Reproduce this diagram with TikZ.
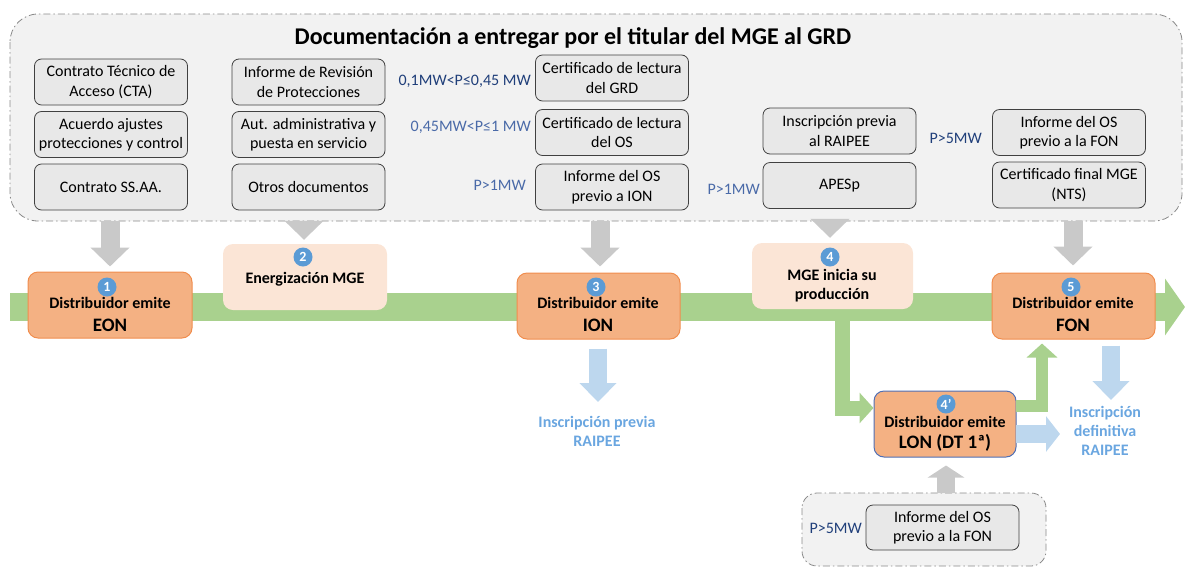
\documentclass[tikz,border=0pt]{standalone}
\usepackage{fontspec}
\setmainfont{Carlito}
\usetikzlibrary{arrows.meta}
\newcommand\myfs[2]{\fontsize{#1}{#2}\selectfont}
\definecolor{bgfill}{HTML}{F2F2F2}
\definecolor{dashgray}{HTML}{8A8A8A}
\definecolor{docfill}{HTML}{E8E8E8}
\definecolor{docline}{HTML}{404040}
\definecolor{orangefill}{HTML}{F4B183}
\definecolor{orangeline}{HTML}{F08D4E}
\definecolor{peachfill}{HTML}{FBE5D6}
\definecolor{numblue}{HTML}{5B9BD5}
\definecolor{tlgreen}{HTML}{A9D18E}
\definecolor{arrgray}{HTML}{C9C9C9}
\definecolor{arrblue}{HTML}{BDD7EE}
\definecolor{txtblue}{HTML}{6AA6E0}
\definecolor{navy}{HTML}{203F7A}
\definecolor{slate}{HTML}{4A6AA8}
\definecolor{lonline}{HTML}{4F6FB5}
\begin{document}
\begin{tikzpicture}[x=1pt,y=-1pt,
  outerbox/.style={draw=dashgray, fill=bgfill, line width=0.8pt, dash pattern=on 7pt off 3pt on 1.5pt off 3pt},
  doc/.style={draw=docline, fill=docfill, rounded corners=7pt, minimum width=153pt, minimum height=46pt, align=center, inner sep=1pt, font=\myfs{16}{19.5}, line width=0.8pt},
  orangebox/.style={fill=orangefill, draw=orangeline, line width=1pt, rounded corners=10pt, minimum width=164pt, minimum height=66pt},
  peachbox/.style={fill=peachfill, rounded corners=10pt, minimum width=164pt, minimum height=66pt},
  num/.style={circle, fill=numblue, text=white, minimum size=19pt, inner sep=0pt, font=\bfseries\myfs{14}{14}},
  btext/.style={font=\bfseries\myfs{16}{19}, align=center, inner sep=0pt},
  bigtext/.style={font=\bfseries\myfs{19}{19}, inner sep=0pt},
  lab/.style={font=\myfs{16}{19}, anchor=east, inner sep=1pt},
  bluetext/.style={font=\bfseries\myfs{16}{19}, align=center, text=txtblue, inner sep=0pt},
  grayarr/.style={draw=arrgray, line width=19pt, -{Triangle[width=38pt,length=19pt]}},
  bluearr/.style={draw=arrblue, line width=18pt, -{Triangle[width=36pt,length=19pt]}},
  greenarr/.style={draw=tlgreen, line width=#1, line join=miter, -{Triangle[width=30pt,length=14pt]}},
]
\useasboundingbox (0,0) rectangle (1185,568);

% outer documentation box
\draw[outerbox, rounded corners=28pt] (10,14) rectangle (1182,221);
\node[font=\bfseries\myfs{24}{24}] (title) at (573,38) {Documentación a entregar por el titular del MGE al GRD};

% column 1
\node[doc] (c11) at (111,82) {Contrato Técnico de\\Acceso (CTA)};
\node[doc] (c12) at (111,134.5) {Acuerdo ajustes\\protecciones y control};
\node[doc] (c13) at (111,187) {Contrato SS.AA.};
% column 2
\node[doc] (c21) at (308.5,82) {Informe de Revisión\\de Protecciones};
\node[doc] (c22) at (308.5,134.5) {Aut. administrativa y\\puesta en servicio};
\node[doc] (c23) at (308.5,187) {Otros documentos};
% column 3
\node[doc] (c31) at (612,78) {Certificado de lectura\\del GRD};
\node[doc] (c32) at (612,132.5) {Certificado de lectura\\del OS};
\node[doc] (c33) at (612,187) {Informe del OS\\previo a ION};
\node[lab, text=navy] (l31) at (532,81) {0,1MW<P≤0,45 MW};
\node[lab, text=slate] (l32) at (532,127) {0,45MW<P≤1 MW};
\node[lab, text=slate] (l33) at (527,185) {P>1MW};
% column 4
\node[doc] (c41) at (839.5,131) {Inscripción previa\\al RAIPEE};
\node[doc] (c42) at (839.5,185.5) {APESp};
\node[lab, text=slate] (l42) at (761,189) {P>1MW};
% column 5
\node[doc] (c51) at (1069,132.5) {Informe del OS\\previo a la FON};
\node[doc] (c52) at (1069,185) {Certificado final MGE\\(NTS)};
\node[lab, text=navy] (l51) at (983,138) {P>5MW};

% timeline
\coordinate (tl0) at (10,307);
\coordinate (tl1) at (1185,307);
\draw[draw=tlgreen, line width=28pt, -{Triangle[width=56pt,length=20pt]}] (tl0) -- (tl1);

% milestone boxes
\node[orangebox] (eon) at (110,305) {};
\node[num] (n1) at (107,287) {1};
\node[btext] (t1) at (110,303) {Distribuidor emite};
\node[bigtext] (t1b) at (110,325) {EON};

\node[peachbox] (ene) at (305,277) {};
\node[num] (n2) at (303,257) {2};
\node[btext] (t2) at (305,279) {Energización MGE};

\node[orangebox, minimum width=163pt] (ion) at (598.5,306) {};
\node[num] (n3) at (596,287) {3};
\node[btext] (t3) at (598,303) {Distribuidor emite};
\node[bigtext] (t3b) at (598,325) {ION};

\node[peachbox, minimum width=161pt] (prod) at (832.5,276) {};
\node[num] (n4) at (830,257) {4};
\node[btext] (t4) at (832,286) {MGE inicia su\\producción};

\node[orangebox, minimum width=163pt] (fon) at (1073.5,306) {};
\node[num] (n5) at (1071,287) {5};
\node[btext] (t5) at (1073,303) {Distribuidor emite};
\node[bigtext] (t5b) at (1073,325) {FON};

\node[orangebox, draw=lonline, minimum width=142pt] (lon) at (945,424) {};
\node[num] (n4p) at (946,404) {4'};
\node[btext] (t4p) at (945,422) {Distribuidor emite};
\node[bigtext] (t4pb) at (945,443) {LON (DT 1ª)};

% gray arrows from documentation
\coordinate (g1) at (110,221);
\coordinate (g2) at (304,221);
\coordinate (g3) at (600,221);
\coordinate (g4) at (830,221);
\coordinate (g5) at (1073,221);
\draw[grayarr] (g1) -- ([yshift=5pt]eon.north -| g1);
\draw[grayarr] (g2) -- ([yshift=4pt]ene.north -| g2);
\draw[grayarr] (g3) -- ([yshift=6pt]ion.north -| g3);
\draw[grayarr] (g4) -- ([yshift=5pt]prod.north -| g4);
\draw[grayarr] (g5) -- ([yshift=7pt]fon.north -| g5);

% green branch to LON and back to FON
\coordinate (br) at (842,314);
\coordinate (brc) at (842,408);
\draw[greenarr=15pt] (br) -- (brc) -- (lon.west |- brc);
\coordinate (lo) at (1016,406);
\coordinate (loc) at (1042,406);
\draw[greenarr=12pt] (lo) -- (loc) -- ([yshift=-4pt]fon.south -| loc);

% blue arrows and texts
\node[bluetext] (r1) at (597,431) {Inscripción previa\\RAIPEE};
\coordinate (ib) at (598,402);
\draw[bluearr] ([yshift=-9pt]ion.south -| ib) -- (ib);
\node[bluetext] (r2) at (1105,431) {Inscripción\\definitiva\\RAIPEE};
\coordinate (fb) at (1111,400);
\draw[bluearr] ([yshift=-6pt]fon.south -| fb) -- (fb);
\coordinate (lb0) at (1016,434);
\coordinate (lb1) at (1060,434);
\draw[draw=arrblue, line width=18pt, -{Triangle[width=35pt,length=14pt]}] (lb0) -- (lb1);

% bottom documentation box
\draw[outerbox, rounded corners=15pt] (802,493) rectangle (1046,566);
\node[doc, minimum height=45pt] (c61) at (942.5,527.5) {Informe del OS\\previo a la FON};
\node[lab, text=navy] (l61) at (863,528) {P>5MW};
\coordinate (g6) at (946,493);
\draw[draw=arrgray, line width=18pt, -{Triangle[width=36pt,length=12pt]}] (g6) -- ([yshift=-8pt]lon.south -| g6);
\end{tikzpicture}
\end{document}
